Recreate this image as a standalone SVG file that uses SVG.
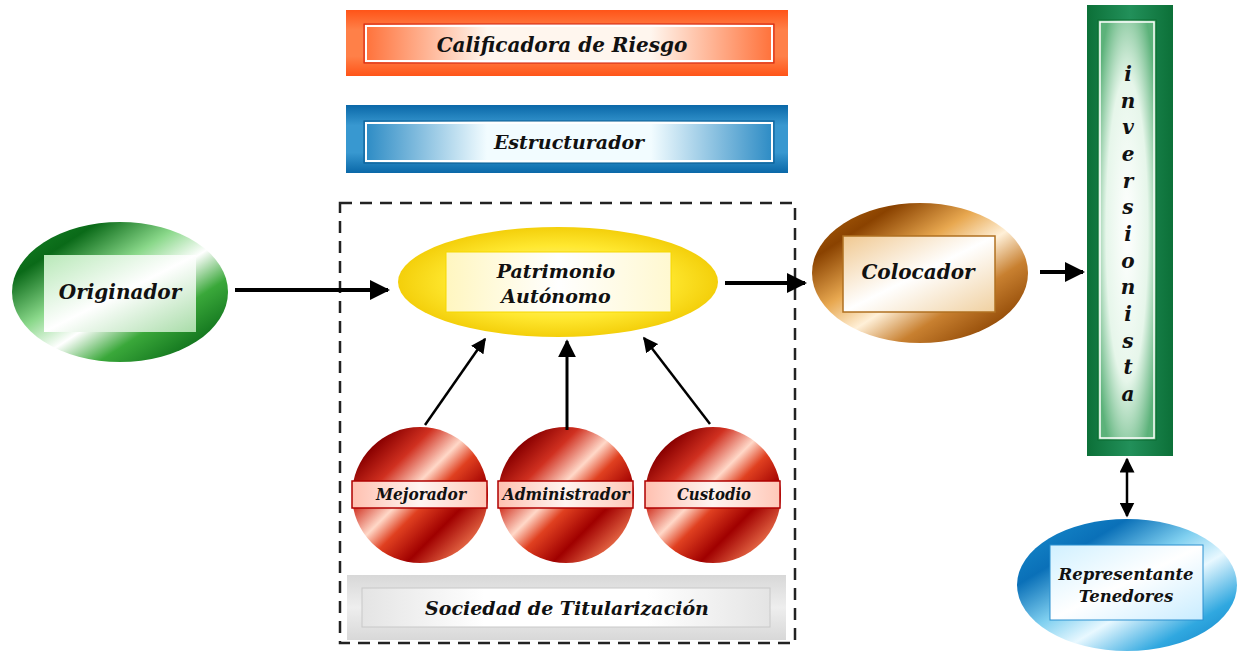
<svg xmlns="http://www.w3.org/2000/svg" width="1241" height="651" viewBox="0 0 1241 651">
<defs>
<linearGradient id="gOrangeV" x1="0" y1="0" x2="0" y2="1"><stop offset="0" stop-color="#ff5418"/><stop offset="0.3" stop-color="#ff8048"/><stop offset="0.7" stop-color="#ff8048"/><stop offset="1" stop-color="#ff5418"/></linearGradient>
<linearGradient id="gOrangeIn" x1="0" y1="0" x2="1" y2="0"><stop offset="0" stop-color="#ff7038"/><stop offset="0.3" stop-color="#fff6ee"/><stop offset="0.7" stop-color="#fff6ee"/><stop offset="1" stop-color="#ff7038"/></linearGradient>
<linearGradient id="gBlueV" x1="0" y1="0" x2="0" y2="1"><stop offset="0" stop-color="#0a68a8"/><stop offset="0.3" stop-color="#3898d0"/><stop offset="0.7" stop-color="#3898d0"/><stop offset="1" stop-color="#0a68a8"/></linearGradient>
<linearGradient id="gBlueIn" x1="0" y1="0" x2="1" y2="0"><stop offset="0" stop-color="#2a8ac4"/><stop offset="0.3" stop-color="#f2fcff"/><stop offset="0.7" stop-color="#f2fcff"/><stop offset="1" stop-color="#2a8ac4"/></linearGradient>
<linearGradient id="gGreyV" x1="0" y1="0" x2="0" y2="1"><stop offset="0" stop-color="#d8d8d8"/><stop offset="0.5" stop-color="#eeeeee"/><stop offset="1" stop-color="#d8d8d8"/></linearGradient>
<linearGradient id="gGreyIn" x1="0" y1="0" x2="1" y2="0"><stop offset="0" stop-color="#e4e4e4"/><stop offset="0.3" stop-color="#ffffff"/><stop offset="0.7" stop-color="#ffffff"/><stop offset="1" stop-color="#e4e4e4"/></linearGradient>
<linearGradient id="gGreenH" x1="0" y1="0" x2="1" y2="0"><stop offset="0" stop-color="#0c7038"/><stop offset="0.5" stop-color="#22905a"/><stop offset="1" stop-color="#0c7038"/></linearGradient>
<radialGradient id="gGreenIn" cx="0.5" cy="0.5" r="0.6"><stop offset="0" stop-color="#ffffff"/><stop offset="0.6" stop-color="#e6f6ea"/><stop offset="1" stop-color="#5cb27a"/></radialGradient>
<linearGradient id="gOrig" x1="0" y1="0" x2="1" y2="1"><stop offset="0" stop-color="#1a8a2a"/><stop offset="0.2" stop-color="#0a6a18"/><stop offset="0.4" stop-color="#8ad88a"/><stop offset="0.55" stop-color="#ffffff"/><stop offset="0.7" stop-color="#3aa83a"/><stop offset="0.9" stop-color="#0a6a18"/><stop offset="1" stop-color="#2a9a3a"/></linearGradient>
<linearGradient id="gOrigIn" x1="0" y1="0" x2="1" y2="1"><stop offset="0" stop-color="#b8e8b8"/><stop offset="0.5" stop-color="#ffffff"/><stop offset="1" stop-color="#a8dca8"/></linearGradient>
<linearGradient id="gCol" x1="0" y1="0" x2="1" y2="1"><stop offset="0" stop-color="#b86a10"/><stop offset="0.2" stop-color="#8a4200"/><stop offset="0.4" stop-color="#e8a850"/><stop offset="0.55" stop-color="#fff0d8"/><stop offset="0.7" stop-color="#c88030"/><stop offset="0.9" stop-color="#8a4200"/><stop offset="1" stop-color="#b06a20"/></linearGradient>
<linearGradient id="gColIn" x1="0" y1="0" x2="1" y2="1"><stop offset="0" stop-color="#f0c890"/><stop offset="0.5" stop-color="#ffffff"/><stop offset="1" stop-color="#f0d0a0"/></linearGradient>
<radialGradient id="gPat" cx="0.5" cy="0.5" r="0.55"><stop offset="0" stop-color="#fff8b0"/><stop offset="0.6" stop-color="#ffe830"/><stop offset="1" stop-color="#f0c800"/></radialGradient>
<linearGradient id="gPatIn" x1="0" y1="0" x2="1" y2="0"><stop offset="0" stop-color="#fff6c0"/><stop offset="0.5" stop-color="#ffffff"/><stop offset="1" stop-color="#fff8d0"/></linearGradient>
<linearGradient id="gRed" x1="0" y1="0" x2="1" y2="1"><stop offset="0" stop-color="#c01010"/><stop offset="0.15" stop-color="#8a0000"/><stop offset="0.3" stop-color="#d03020"/><stop offset="0.45" stop-color="#ffd8c8"/><stop offset="0.55" stop-color="#e04020"/><stop offset="0.7" stop-color="#a00000"/><stop offset="0.85" stop-color="#e06040"/><stop offset="1" stop-color="#a00000"/></linearGradient>
<linearGradient id="gRedBand" x1="0" y1="0" x2="1" y2="0"><stop offset="0" stop-color="#ffc0b0"/><stop offset="0.5" stop-color="#fff4f0"/><stop offset="1" stop-color="#ffc8b8"/></linearGradient>
<linearGradient id="gRep" x1="0" y1="0" x2="1" y2="1"><stop offset="0" stop-color="#1a90d0"/><stop offset="0.25" stop-color="#0a70b8"/><stop offset="0.45" stop-color="#80d0f0"/><stop offset="0.6" stop-color="#e8f8ff"/><stop offset="0.8" stop-color="#30a8e0"/><stop offset="1" stop-color="#0a78c0"/></linearGradient>
<linearGradient id="gRepIn" x1="0" y1="0" x2="1" y2="1"><stop offset="0" stop-color="#d0f0ff"/><stop offset="0.5" stop-color="#ffffff"/><stop offset="1" stop-color="#c8ecff"/></linearGradient>
<marker id="ah" viewBox="0 0 10 10" refX="9" refY="5" markerWidth="5" markerHeight="5" orient="auto-start-reverse" markerUnits="strokeWidth"><path d="M0,0 L10,5 L0,10 Z" fill="#000"/></marker>
<marker id="ahs" viewBox="0 0 10 10" refX="9" refY="5" markerWidth="6" markerHeight="6" orient="auto-start-reverse" markerUnits="strokeWidth"><path d="M0,0 L10,5 L0,10 Z" fill="#000"/></marker>
</defs>
<style>
.t{font-family:"DejaVu Serif","Liberation Serif",serif;font-style:italic;font-weight:bold;fill:#111;text-anchor:middle}
.big{font-size:20px}
.med{font-size:19px}
.sm{font-size:16px}
.frame{stroke:#ffffff;stroke-width:2;}
.conn{stroke:#000;fill:none}
</style>
<rect width="1241" height="651" fill="#ffffff"/>

<g id="dashed-boundary">
<rect x="340" y="203" width="455" height="440" fill="none" stroke="#222" stroke-width="2.5" stroke-dasharray="12,8"/>
</g>

<g id="calificadora">
<rect x="346" y="10" width="442" height="66" fill="url(#gOrangeV)"/>
<rect x="364" y="24" width="410" height="39" fill="url(#gOrangeIn)" stroke="#d02010" stroke-width="1"/>
<rect x="366" y="26" width="406" height="35" fill="none" class="frame"/>
<text x="562" y="52" class="t big">Calificadora de Riesgo</text>
</g>

<g id="estructurador">
<rect x="346" y="105" width="442" height="68" fill="url(#gBlueV)"/>
<rect x="364" y="121" width="410" height="42" fill="url(#gBlueIn)" stroke="#0a5a90" stroke-width="1"/>
<rect x="366" y="123" width="406" height="38" fill="none" class="frame"/>
<text x="569" y="149" class="t" style="font-size:19px">Estructurador</text>
</g>

<g id="originador">
<ellipse cx="120" cy="292" rx="108" ry="70" fill="url(#gOrig)"/>
<rect x="44" y="255" width="152" height="77" fill="url(#gOrigIn)"/>
<text x="120" y="299" class="t big">Originador</text>
</g>

<g id="patrimonio">
<ellipse cx="558" cy="282" rx="160" ry="55" fill="url(#gPat)"/>
<rect x="446" y="252" width="225" height="60" fill="url(#gPatIn)" stroke="#f5d800" stroke-width="1"/>
<text x="556" y="278" class="t med">Patrimonio</text>
<text x="556" y="303" class="t med">Autónomo</text>
</g>

<g id="colocador">
<ellipse cx="920" cy="273" rx="108" ry="70" fill="url(#gCol)"/>
<rect x="843" y="236" width="152" height="76" fill="url(#gColIn)" stroke="#b07020" stroke-width="1.5"/>
<text x="918" y="279" class="t big">Colocador</text>
</g>

<g id="inversionista">
<rect x="1087" y="5" width="86" height="451" fill="url(#gGreenH)"/>
<rect x="1098" y="20" width="58" height="420" fill="url(#gGreenIn)" stroke="#0a6a30" stroke-width="1"/>
<rect x="1100" y="22" width="54" height="416" fill="none" stroke="#ffffff" stroke-width="1.5"/>
<g class="t" style="font-size:20px">
<text x="1128" y="81">i</text>
<text x="1128" y="108">n</text>
<text x="1128" y="134">v</text>
<text x="1128" y="161">e</text>
<text x="1128" y="188">r</text>
<text x="1128" y="214">s</text>
<text x="1128" y="241">i</text>
<text x="1128" y="268">o</text>
<text x="1128" y="294">n</text>
<text x="1128" y="321">i</text>
<text x="1128" y="348">s</text>
<text x="1128" y="374">t</text>
<text x="1128" y="401">a</text>
</g>
</g>

<g id="representante">
<ellipse cx="1127" cy="585" rx="110" ry="66" fill="url(#gRep)"/>
<rect x="1050" y="545" width="153" height="75" fill="url(#gRepIn)" stroke="#2a90d0" stroke-width="1"/>
<text x="1126" y="580" class="t" style="font-size:16.5px">Representante</text>
<text x="1126" y="602" class="t" style="font-size:16.5px">Tenedores</text>
</g>

<g id="mejorador">
<circle cx="420" cy="495" r="68" fill="url(#gRed)"/>
<rect x="352" y="481" width="135" height="27" fill="url(#gRedBand)" stroke="#b00000" stroke-width="1.5"/>
<text x="421" y="500" class="t sm" textLength="90" lengthAdjust="spacingAndGlyphs">Mejorador</text>
</g>

<g id="administrador">
<circle cx="566" cy="495" r="68" fill="url(#gRed)"/>
<rect x="498" y="481" width="135" height="27" fill="url(#gRedBand)" stroke="#b00000" stroke-width="1.5"/>
<text x="566" y="500" class="t sm" textLength="127" lengthAdjust="spacingAndGlyphs">Administrador</text>
</g>

<g id="custodio">
<circle cx="713" cy="495" r="68" fill="url(#gRed)"/>
<rect x="645" y="481" width="135" height="27" fill="url(#gRedBand)" stroke="#b00000" stroke-width="1.5"/>
<text x="714" y="500" class="t sm" textLength="74" lengthAdjust="spacingAndGlyphs">Custodio</text>
</g>

<g id="sociedad">
<rect x="347" y="575" width="439" height="65" fill="url(#gGreyV)"/>
<rect x="362" y="588" width="408" height="39" fill="url(#gGreyIn)" stroke="#c8c8c8" stroke-width="1"/>
<text x="567" y="615" class="t" style="font-size:19px">Sociedad de Titularización</text>
</g>

<g id="connectors">
<line x1="235" y1="290" x2="388" y2="290" class="conn" stroke-width="4" marker-end="url(#ah)"/>
<line x1="725" y1="283" x2="805" y2="283" class="conn" stroke-width="4" marker-end="url(#ah)"/>
<line x1="1040" y1="272" x2="1083" y2="272" class="conn" stroke-width="4" marker-end="url(#ah)"/>
<line x1="425" y1="425" x2="485" y2="339" class="conn" stroke-width="2.5" marker-end="url(#ahs)"/>
<line x1="567" y1="430" x2="567" y2="341" class="conn" stroke-width="3" marker-end="url(#ahs)"/>
<line x1="710" y1="424" x2="644" y2="338" class="conn" stroke-width="2.5" marker-end="url(#ahs)"/>
<line x1="1127" y1="459" x2="1127" y2="516" class="conn" stroke-width="2.5" marker-start="url(#ahs)" marker-end="url(#ahs)"/>
</g>
</svg>
